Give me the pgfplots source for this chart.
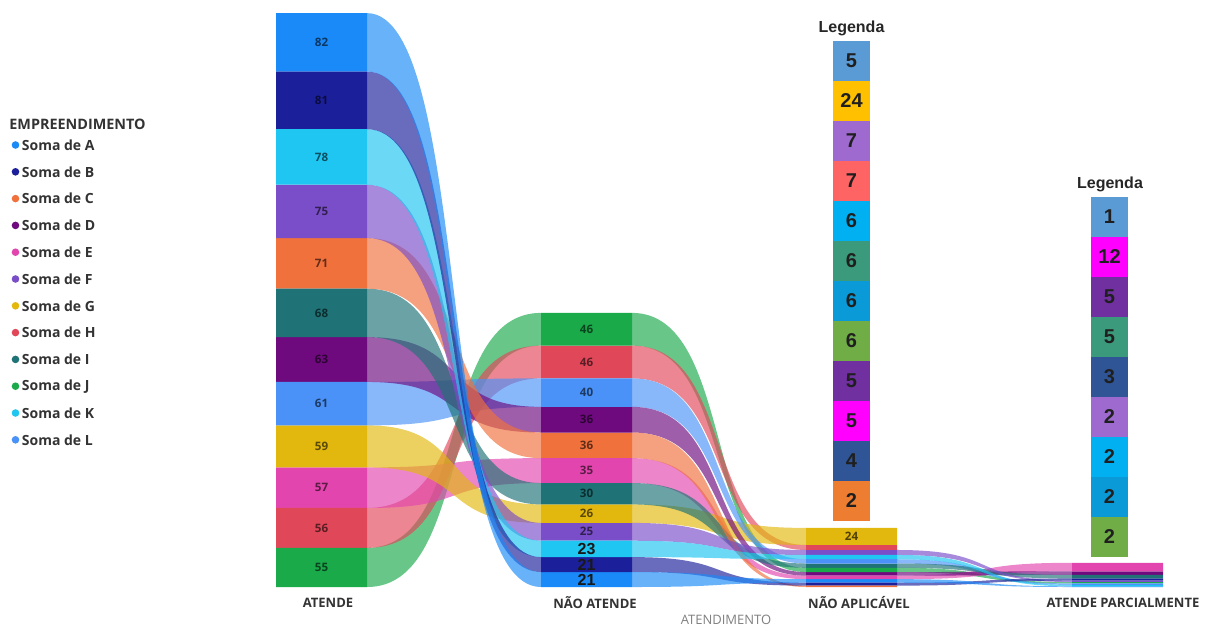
\documentclass[border=0pt]{standalone}
\usepackage{fontspec}
\setmainfont{Open Sans}
\newfontfamily\arialf{Liberation Sans}
\usepackage{pgfplots}
\pgfplotsset{compat=1.18}

% series colours
\definecolor{cA}{HTML}{1A8AF8}
\definecolor{cB}{HTML}{1B1F9A}
\definecolor{cC}{HTML}{F0713C}
\definecolor{cD}{HTML}{6E0A7E}
\definecolor{cE}{HTML}{E246AE}
\definecolor{cF}{HTML}{7A4EC8}
\definecolor{cG}{HTML}{E2B70E}
\definecolor{cH}{HTML}{E0485A}
\definecolor{cI}{HTML}{1F7276}
\definecolor{cJ}{HTML}{1AAA4A}
\definecolor{cK}{HTML}{1FC6F2}
\definecolor{cL}{HTML}{4A92F8}
% "Legenda" box colours
\definecolor{lsb}{HTML}{5B9BD5}
\definecolor{lyl}{HTML}{FFC000}
\definecolor{lpu}{HTML}{9E6AD0}
\definecolor{lrd}{HTML}{FF6464}
\definecolor{lcy}{HTML}{00B0F0}
\definecolor{ltl}{HTML}{3C9A7C}
\definecolor{lbl}{HTML}{0A9AD8}
\definecolor{lgr}{HTML}{70AD47}
\definecolor{ldp}{HTML}{7030A0}
\definecolor{lmg}{HTML}{FF00FF}
\definecolor{lnv}{HTML}{2F5597}
\definecolor{lor}{HTML}{ED7D31}
\definecolor{txt}{HTML}{333333}

% stacking of each column (bottom to top): series/value
\newcommand\stackcol[2]{%
  \gdef\cum{0}%
  \foreach \s/\v in {#2}{%
    \pgfmathsetmacro\tp{\cum+\v}%
    \expandafter\xdef\csname b-\s-#1\endcsname{\cum}%
    \expandafter\xdef\csname t-\s-#1\endcsname{\tp}%
    \expandafter\xdef\csname v-\s-#1\endcsname{\v}%
    \xdef\cum{\tp}%
  }%
}
% ATENDE
\stackcol{1}{J/55,H/56,E/57,G/59,L/61,D/63,I/68,C/71,F/75,K/78,B/81,A/82}
% NAO ATENDE
\stackcol{2}{A/21,B/21,K/23,F/25,G/26,I/30,E/35,C/36,D/36,L/40,H/46,J/46}
% NAO APLICAVEL
\stackcol{3}{C/2,B/4,A/5,E/5,D/5,J/6,I/6,L/6,K/6,F/7,H/7,G/24}
% ATENDE PARCIALMENTE
\stackcol{4}{A/1,K/2,L/2,J/2,F/2,B/3,I/5,D/5,E/12}

\newcommand\B[2]{\csname b-#1-#2\endcsname}
\newcommand\T[2]{\csname t-#1-#2\endcsname}
\newcommand\V[2]{\csname v-#1-#2\endcsname}
\newcommand\XL[1]{\ifcase#1 \or276\or541\or806\or1072\fi}
\newcommand\XR[1]{\ifcase#1 \or367\or632\or897\or1163\fi}

\newcommand\nodebar[2]{%
  \edef\temp{\noexpand\addplot[fill=c#1, draw=none, forget plot] coordinates
    {(\XL{#2},\B{#1}{#2}) (\XR{#2},\B{#1}{#2}) (\XR{#2},\T{#1}{#2}) (\XL{#2},\T{#1}{#2}) (\XL{#2},\B{#1}{#2})};}%
  \temp}
\newcommand\ribbon[3]{%
  \pgfmathsetmacro\xma{\XR{#2}+0.6*(\XL{#3}-\XR{#2})}%
  \pgfmathsetmacro\xmb{\XL{#3}-0.6*(\XL{#3}-\XR{#2})}%
  \edef\temp{\noexpand\fill[c#1, fill opacity=0.66]
    (axis cs:\XR{#2},\T{#1}{#2}) .. controls (axis cs:\xma,\T{#1}{#2}) and (axis cs:\xmb,\T{#1}{#3}) .. (axis cs:\XL{#3},\T{#1}{#3})
    -- (axis cs:\XL{#3},\B{#1}{#3}) .. controls (axis cs:\xmb,\B{#1}{#3}) and (axis cs:\xma,\B{#1}{#2}) .. (axis cs:\XR{#2},\B{#1}{#2}) -- cycle;}%
  \temp}
\newcommand\barlabel[3]{%
  \pgfmathsetmacro\ym{(\B{#1}{#2}+\T{#1}{#2})/2}%
  \pgfmathsetmacro\xc{(\XL{#2}+\XR{#2})/2}%
  \edef\temp{\noexpand\node[#3] at (axis cs:\xc,\ym) {\V{#1}{#2}};}%
  \temp}

\tikzset{
  lab/.style={font=\bfseries\fontsize{5.8}{6}\selectfont, inner sep=0pt},
  labbig/.style={font=\arialf\bfseries\fontsize{8}{9}\selectfont, text=black!90, inner sep=0pt},
  cat/.style={font=\bfseries\fontsize{6.5}{7}\selectfont, text=txt, inner sep=0pt},
  legbox/.style={minimum width=18.5pt, minimum height=20pt, inner sep=0pt,
    font=\arialf\bfseries\fontsize{10}{11}\selectfont, text=black!88},
  legtitle/.style={font=\arialf\bfseries\fontsize{8}{9}\selectfont, text=black!85, inner sep=0pt},
}

\begin{document}
\begin{tikzpicture}
\begin{axis}[at={(0,0)}, anchor=north west, scale only axis,
  width=603.5pt, height=314pt,
  xmin=0, xmax=1207, ymin=-57.58, ymax=824.44,
  hide axis, clip=false]
% ribbons
\pgfplotsforeachungrouped \s in {J,H,E,G,L,D,I,C,F,K,B,A}{\ribbon{\s}{1}{2}}
\pgfplotsforeachungrouped \s in {J,H,E,G,L,D,I,C,F,K,B,A}{\ribbon{\s}{2}{3}}
\pgfplotsforeachungrouped \s in {J,E,L,D,I,F,K,B,A}{\ribbon{\s}{3}{4}}
% column segments
\pgfplotsforeachungrouped \s in {A,B,C,D,E,F,G,H,I,J,K,L}{\nodebar{\s}{1}\nodebar{\s}{2}\nodebar{\s}{3}}
\pgfplotsforeachungrouped \s in {A,B,D,E,F,I,J,K,L}{\nodebar{\s}{4}}
% value labels
\pgfplotsforeachungrouped \s in {A,B,C,D,E,F,G,H,I,J,K,L}{\barlabel{\s}{1}{lab, text=c\s!40!black}}
\pgfplotsforeachungrouped \s in {C,D,E,F,G,H,I,J,L}{\barlabel{\s}{2}{lab, text=c\s!40!black}}
\pgfplotsforeachungrouped \s in {A,B,K}{\barlabel{\s}{2}{labbig}}
\barlabel{G}{3}{lab, text=cG!35!black}
\end{axis}

\begin{scope}[x=0.5pt, y=-0.5pt]
% legend of the series
\node[anchor=west, inner sep=0pt, font=\bfseries\fontsize{7.2}{8}\selectfont, text=txt] at (9,124) {EMPREENDIMENTO};
\foreach \s [count=\i from 0] in {A,B,C,D,E,F,G,H,I,J,K,L}{
  \fill[c\s] (15.5,{145+26.8*\i}) circle[radius=1.9pt];
  \node[anchor=west, inner sep=0pt, font=\bfseries\fontsize{7}{8}\selectfont, text=txt] at (21.5,{145+26.8*\i}) {Soma de \s};
}
% category labels
\node[cat] at (328,603) {ATENDE};
\node[cat] at (595,603) {NÃO ATENDE};
\node[cat] at (859,603) {NÃO APLICÁVEL};
\node[cat] at (1123,603) {ATENDE PARCIALMENTE};
\node[inner sep=0pt, font=\fontsize{6.5}{7}\selectfont, text=black!50] at (726,620) {ATENDIMENTO};
% Legenda boxes
\node[legtitle] at (851.5,28) {Legenda};
\foreach \c/\n [count=\i from 0] in {lsb/5,lyl/24,lpu/7,lrd/7,lcy/6,ltl/6,lbl/6,lgr/6,ldp/5,lmg/5,lnv/4,lor/2}
  \node[legbox, fill=\c] at (851.5,{61+40*\i}) {\n};
\node[legtitle] at (1110,184) {Legenda};
\foreach \c/\n [count=\i from 0] in {lsb/1,lmg/12,ldp/5,ltl/5,lnv/3,lpu/2,lcy/2,lbl/2,lgr/2}
  \node[legbox, fill=\c] at (1109.5,{217+40*\i}) {\n};
\end{scope}
\pgfresetboundingbox
\path (0,0) rectangle (603.5pt,-314pt);
\end{tikzpicture}
\end{document}
